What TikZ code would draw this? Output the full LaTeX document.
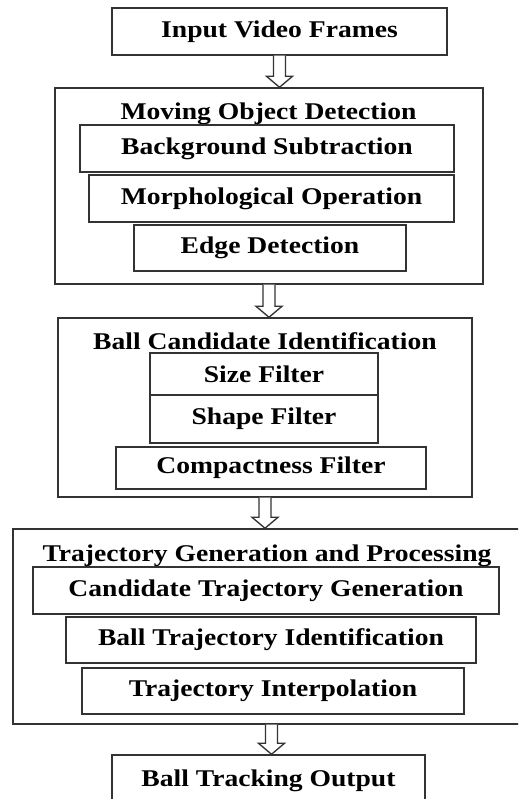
\documentclass[tikz,border=0pt]{standalone}
\usepackage{fontspec}
\newfontfamily\boxfont{Liberation Serif}[FakeStretch=1.15]
\usetikzlibrary{calc}
\definecolor{edge}{HTML}{333333}

% hollow block arrow from the bottom of one box down to the top of the next
\newcommand{\blockarrow}[2]{%
  \draw[flow] ($(#1.south)+(-6,0)$) -- ($(#1.south |- #2.north)+(-6,-11)$) -- ++(-7,0)
    -- (#1.south |- #2.north) -- ++(13,-11) -- ++(-7,0) -- ($(#1.south)+(6,0)$);}

\begin{document}
\begin{tikzpicture}[x=0.75pt,y=-0.75pt,
  font=\boxfont\bfseries\fontsize{18}{20}\selectfont,
  box/.style={draw=edge,line width=1.1pt,fill=white,inner sep=0pt,align=center},
  stage/.style={box,fill=none},
  sz/.style n args={2}{minimum width=#1*0.75pt,minimum height=#2*0.75pt},
  ttl/.style={anchor=base,inner sep=0pt},
  flow/.style={draw=edge,line width=1pt,fill=white,line join=miter}]

\useasboundingbox (0,0) rectangle (518,799);
\clip (0,0) rectangle (518,799);

\node[box,sz={335}{47}] (in) at (279.5,31.5) {Input Video Frames};

% moving object detection
\node[stage,sz={428}{196}] (m0) at (269,186) {};
\node[ttl] (mt) at (268.5,119) {Moving Object Detection};
\node[box,sz={374}{47}] (m1) at (267,148.5) {Background Subtraction};
\node[box,sz={365}{47}] (m2) at (271.5,198.5) {Morphological Operation};
\node[box,sz={272}{46}] (m3) at (270,248) {Edge Detection};

% ball candidates
\node[stage,sz={414}{179}] (b0) at (265,407.5) {};
\node[ttl] (bt) at (265,349) {Ball Candidate Identification};
\node[box,sz={228}{42}] (b1) at (264,374) {Size Filter};
\node[box,sz={228}{48}] (b2) at (264,419) {Shape Filter};
\node[box,sz={310}{42}] (b3) at (271,468) {Compactness Filter};

% trajectories
\node[stage,sz={517}{195}] (t0) at (271.5,626.5) {};
\node[ttl] (tt) at (267,561) {Trajectory Generation and Processing};
\node[box,sz={466}{47}] (t1) at (266,590.5) {Candidate Trajectory Generation};
\node[box,sz={410}{46}] (t2) at (271,640) {Ball Trajectory Identification};
\node[box,sz={382}{46}] (t3) at (273,691) {Trajectory Interpolation};

\node[box,sz={313}{51}] (out) at (268.5,780.5) {Ball Tracking Output};

\foreach \a/\b in {in/m0,m0/b0,b0/t0,t0/out} {\blockarrow{\a}{\b}}
\end{tikzpicture}
\end{document}
